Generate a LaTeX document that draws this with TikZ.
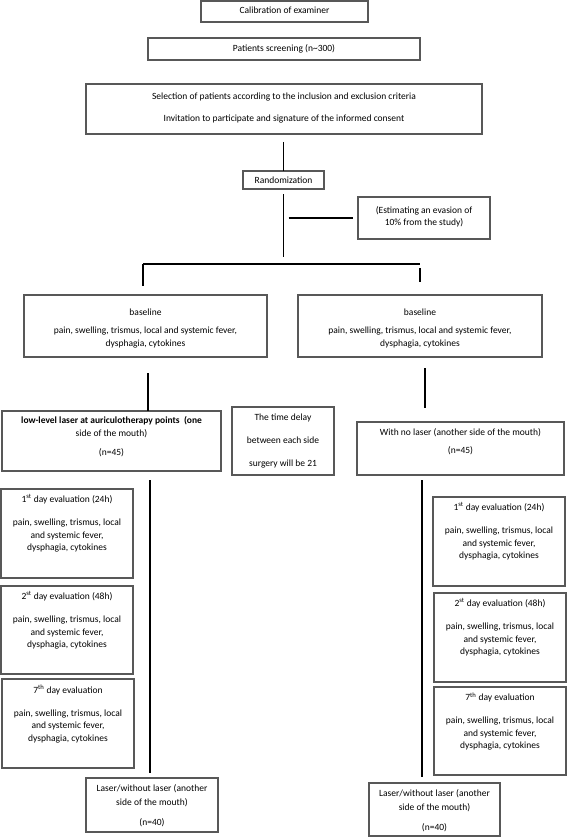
\documentclass[tikz,border=0pt]{standalone}
\usepackage{fontspec}
\setmainfont{Carlito}
\definecolor{boxgray}{RGB}{88,88,88}
\newcommand{\firstln}{\rule{0pt}{8pt}}
\begin{document}
\begin{tikzpicture}[x=1pt,y=-1pt,
  box/.style={draw=boxgray, line width=1.1pt, inner sep=0pt, outer sep=0pt, fill=white},
  txt/.style={inner sep=0pt, outer sep=0pt, align=center, anchor=north, font=\fontsize{9.5}{12.5}\selectfont},
  ln/.style={draw=black, line width=1.2pt}]
\useasboundingbox (0,0) rectangle (567,837);
% boxes
\node[box, minimum width=167pt, minimum height=21pt] (cal) at (284.5,11.5) {};
\node[box, minimum width=272pt, minimum height=22pt] (scr) at (284,49) {};
\node[box, minimum width=396pt, minimum height=50pt] (sel) at (284,109) {};
\node[box, minimum width=81pt, minimum height=18pt] (rand) at (283.5,180) {};
\node[box, minimum width=132pt, minimum height=42pt] (est) at (424,218) {};
\node[box, minimum width=243pt, minimum height=62pt] (baseL) at (145.5,326) {};
\node[box, minimum width=244pt, minimum height=62pt] (baseR) at (420,326) {};
\node[box, minimum width=219pt, minimum height=60pt] (lowL) at (111.5,441) {};
\node[box, minimum width=102pt, minimum height=68pt] (time) at (283,441) {};
\node[box, minimum width=207pt, minimum height=53pt] (noL) at (460.5,448.5) {};
\node[box, minimum width=132pt, minimum height=89pt] (e1L) at (67,533.5) {};
\node[box, minimum width=132pt, minimum height=88pt] (e2L) at (67,630) {};
\node[box, minimum width=132pt, minimum height=89pt] (e3L) at (68,723.5) {};
\node[box, minimum width=132pt, minimum height=89pt] (e1R) at (499,541.5) {};
\node[box, minimum width=132pt, minimum height=89pt] (e2R) at (500,637.5) {};
\node[box, minimum width=132pt, minimum height=88pt] (e3R) at (500,731) {};
\node[box, minimum width=132pt, minimum height=54pt] (botL) at (152,805) {};
\node[box, minimum width=131pt, minimum height=53pt] (botR) at (434.5,809.5) {};
% texts
\node[txt] (tcal) at (284.5,6) {\firstln Calibration of examiner};
\node[txt] (tscr) at (284,44) {\firstln Patients screening (n\textasciitilde 300)};
\node[txt] (tsel) at (284,92) {\firstln Selection of patients according to the inclusion and exclusion criteria\\[9.5pt]Invitation to participate and signature of the informed consent};
\node[txt] (trand) at (283.5,175) {\firstln Randomization};
\node[txt] (test) at (424,205) {\firstln (Estimating an evasion of\\10\% from the study)};
\node[txt] (tbaseL) at (145.5,307) {\firstln baseline\\[6pt]pain, swelling, trismus, local and systemic fever,\\dysphagia, cytokines};
\node[txt] (tbaseR) at (420,307) {\firstln baseline\\[6pt]pain, swelling, trismus, local and systemic fever,\\dysphagia, cytokines};
\node[txt] (tlowL) at (111.5,415) {\firstln\textbf{low-level laser at auriculotherapy points\ \ (one}\\[0.5pt]side of the mouth)\\[6.5pt](n=45)};
\node[txt] (ttime) at (283,412) {\firstln The time delay\\[10.5pt]between each side\\[10.5pt]surgery will be 21};
\node[txt] (tnoL) at (460.5,427) {\firstln With no laser (another side of the mouth)\\[5.5pt](n=45)};
\node[txt] (te1L) at (67,494.5) {\firstln 1\textsuperscript{st} day evaluation (24h)\\[10.5pt]pain, swelling, trismus, local\\and systemic fever,\\dysphagia, cytokines};
\node[txt] (te2L) at (67,591.5) {\firstln 2\textsuperscript{st} day evaluation (48h)\\[10.5pt]pain, swelling, trismus, local\\and systemic fever,\\dysphagia, cytokines};
\node[txt] (te3L) at (68,685) {\firstln 7\textsuperscript{th} day evaluation\\[10.5pt]pain, swelling, trismus, local\\and systemic fever,\\dysphagia, cytokines};
\node[txt] (te1R) at (499,502.5) {\firstln 1\textsuperscript{st} day evaluation (24h)\\[10.5pt]pain, swelling, trismus, local\\and systemic fever,\\dysphagia, cytokines};
\node[txt] (te2R) at (500,598.5) {\firstln 2\textsuperscript{st} day evaluation (48h)\\[10.5pt]pain, swelling, trismus, local\\and systemic fever,\\dysphagia, cytokines};
\node[txt] (te3R) at (500,692.5) {\firstln 7\textsuperscript{th} day evaluation\\[10.5pt]pain, swelling, trismus, local\\and systemic fever,\\dysphagia, cytokines};
\node[txt] (tbotL) at (152,783) {\firstln Laser/without laser (another\\[1.5pt]side of the mouth)\\[7.5pt](n=40)};
\node[txt] (tbotR) at (434.5,788) {\firstln Laser/without laser (another\\[1.5pt]side of the mouth)\\[7.5pt](n=40)};
% connectors
\coordinate (sp) at (283.5,264);
\coordinate (spL) at (143,264);
\coordinate (spR) at (420,264);
\coordinate (qL) at (148,373);
\coordinate (qR) at (425,368);
\coordinate (rL) at (150,480);
\coordinate (rR) at (422,480);
\draw[ln, shorten <=8pt] (rand.north |- sel.south) -- (rand.north);
\draw[ln, shorten <=5pt, shorten >=7pt] (rand.south) -- (sp);
\draw[ln, shorten <=5pt, shorten >=5pt] (rand.south |- est.west) -- (est.west);
\draw[ln] (spL) -- (spR);
\draw[ln, shorten >=9pt] (spL) -- (spL |- baseL.north);
\draw[ln, shorten <=4pt, shorten >=13pt] (spR) -- (baseR.north);
\draw[ln] (qL) -- (qL |- lowL.north);
\draw[ln, shorten >=14pt] (qR) -- (qR |- noL.north);
\draw[ln, shorten >=5pt] (rL) -- (rL |- botL.north);
\draw[ln, shorten >=6pt] (rR) -- (rR |- botR.north);
\end{tikzpicture}
\end{document}
